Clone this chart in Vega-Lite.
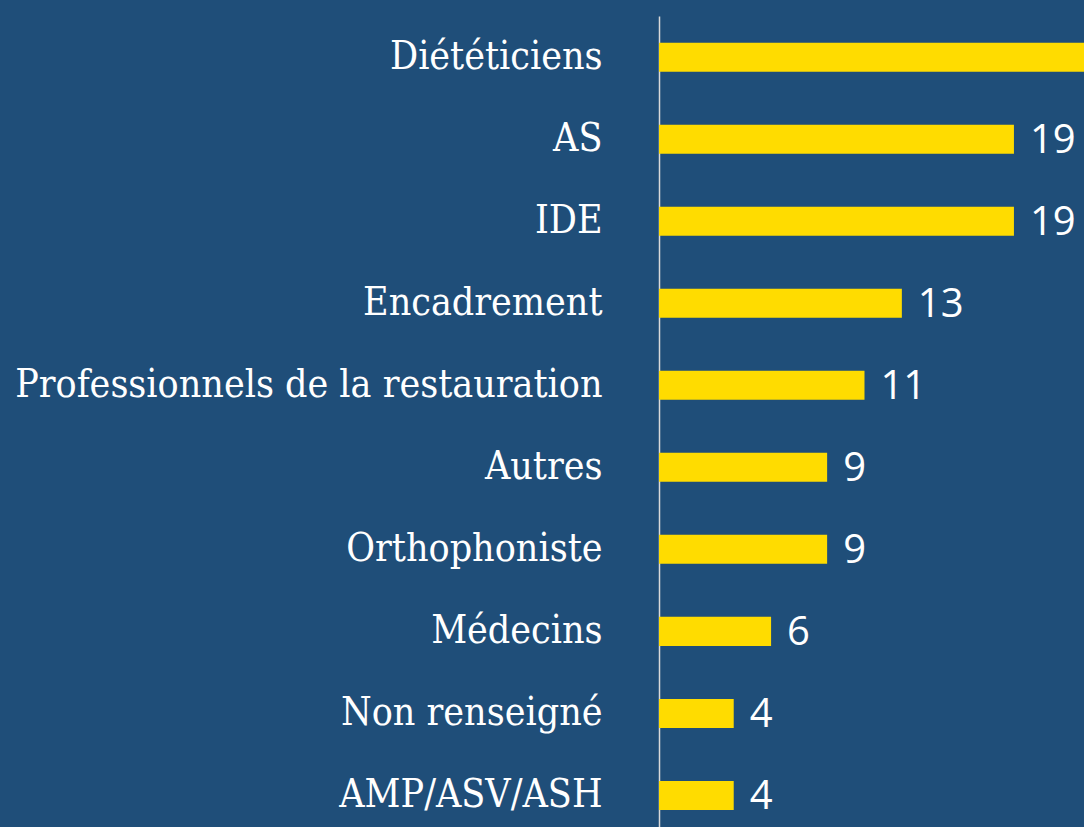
{
  "$schema": "https://vega.github.io/schema/vega-lite/v6.json",
  "width": 425,
  "height": 811,
  "autosize": {"type": "none"},
  "padding": {"left": 659, "top": 16, "right": 0, "bottom": 0},
  "background": "#1F4E79",
  "config": {"view": {"stroke": null}},
  "data": {
    "values": [
      {"cat": "Diététiciens", "n": 24},
      {"cat": "AS", "n": 19},
      {"cat": "IDE", "n": 19},
      {"cat": "Encadrement", "n": 13},
      {"cat": "Professionnels de la restauration", "n": 11},
      {"cat": "Autres", "n": 9},
      {"cat": "Orthophoniste", "n": 9},
      {"cat": "Médecins", "n": 6},
      {"cat": "Non renseigné", "n": 4},
      {"cat": "AMP/ASV/ASH", "n": 4}
    ]
  },
  "encoding": {
    "y": {
      "field": "cat",
      "type": "nominal",
      "sort": null,
      "scale": {"paddingInner": 0.646, "paddingOuter": 0.2665, "align": 0.61},
      "axis": {
        "title": null,
        "ticks": false,
        "labelPadding": 57,
        "labelLimit": 700,
        "labelFont": "DejaVu Serif Condensed",
        "labelFontSize": 39,
        "labelColor": "#FFFFFF",
        "domainColor": "#D9D9D9",
        "domainWidth": 1.5
      }
    },
    "x": {
      "field": "n",
      "type": "quantitative",
      "scale": {"domain": [0, 22.75]},
      "axis": null
    }
  },
  "layer": [
    {"mark": {"type": "bar", "color": "#FFDC00", "clip": true}},
    {
      "transform": [{"filter": "datum.n <= 22"}],
      "mark": {"type": "text", "align": "left", "baseline": "middle", "dx": 16, "dy": 2, "font": "Open Sans", "fontSize": 40, "color": "#FFFFFF", "clip": true},
      "encoding": {"text": {"field": "n", "type": "quantitative"}}
    }
  ]
}
